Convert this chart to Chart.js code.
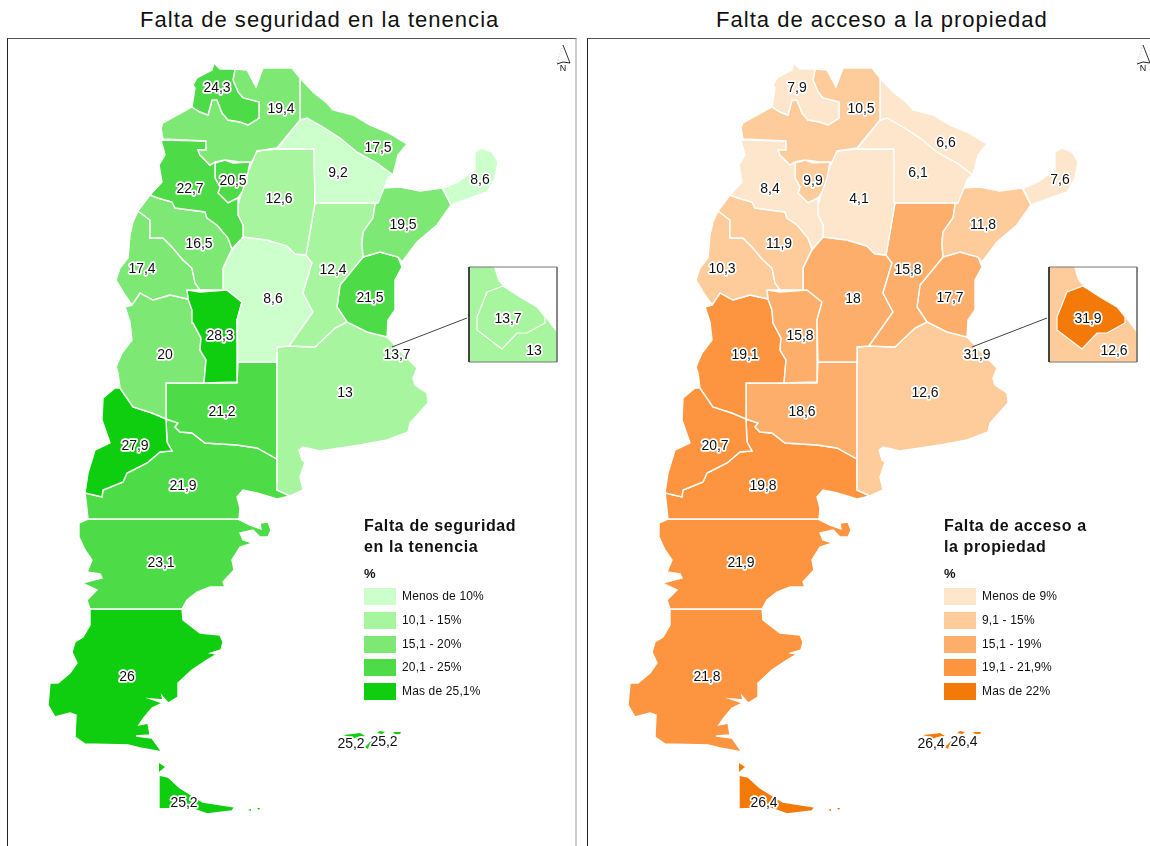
<!DOCTYPE html>
<html>
<head>
<meta charset="utf-8">
<title>Falta de seguridad y de acceso</title>
<script src="https://cdn.jsdelivr.net/npm/chart.js@4"></script>
<style>
  html, body { margin: 0; background: #fff; }
  body { width: 1150px; height: 846px; position: relative; overflow: hidden; font-family: "Liberation Sans", Arial, sans-serif; color: #111; }
  canvas { position: absolute; top: 38px; }
  #mapA { left: 7px; }
  #mapB { left: 587px; }
  .heading { position: absolute; top: 6px; font-size: 22px; line-height: 28px; letter-spacing: 1.03px; white-space: nowrap; }
  .frame { position: absolute; top: 38px; height: 808px; box-sizing: border-box; border-top: 1px solid #555; border-left: 1px solid #222; pointer-events: none; }
  #frameA { left: 7px; width: 570px; border-right: 2px solid #ccc; }
  #frameB { left: 587px; width: 563px; }
  .key { position: absolute; top: 516px; }
  .key h4 { margin: 0; font-size: 16px; line-height: 20.5px; letter-spacing: .6px; white-space: pre; }
  .key b { position: absolute; top: 50px; font-size: 13px; }
  .key div { position: absolute; left: 0; width: 32px; height: 17px; }
  .key span { position: absolute; left: 38px; font-size: 12px; line-height: 17px; letter-spacing: .15px; white-space: nowrap; }
</style>
</head>
<body>
<div class="heading" style="left:140px">Falta de seguridad en la tenencia</div>
<div class="heading" style="left:716px">Falta de acceso a la propiedad</div>
<canvas id="mapA" width="569" height="808"></canvas>
<canvas id="mapB" width="563" height="808"></canvas>
<div class="frame" id="frameA"></div>
<div class="frame" id="frameB"></div>
<div class="key" id="keyA" style="left:364px"></div>
<div class="key" id="keyB" style="left:944px"></div>
<script>
// province values, same order as the outlines below
const provinces = ["Jujuy", "Salta", "Formosa", "Chaco", "Misiones", "Catamarca", "Tucuman", "Santiago", "La Rioja", "Corrientes", "San Juan", "Santa Fe", "Entre Rios", "Cordoba", "San Luis", "Mendoza", "Buenos Aires", "La Pampa", "Neuquen", "Rio Negro", "Chubut", "Santa Cruz", "Tierra del Fuego"];
const tenencia = [24.3, 19.4, 17.5, 9.2, 8.6, 22.7, 20.5, 12.6, 16.5, 19.5, 17.4, 12.4, 21.5, 8.6, 28.3, 20, 13, 21.2, 27.9, 21.9, 23.1, 26, 25.2];
const propiedad = [7.9, 10.5, 6.6, 6.1, 7.6, 8.4, 9.9, 4.1, 11.9, 11.8, 10.3, 15.8, 17.7, 18, 15.8, 19.1, 12.6, 18.6, 20.7, 19.8, 21.9, 21.8, 26.4];
const granBsAs = [13.7, 31.9];

const breaksA = [10, 15, 20, 25];
const breaksB = [9, 15, 19, 21.95];
const greens = ["#ccffcc", "#a8f5a0", "#7de874", "#4ddb48", "#0fce0f"];
const oranges = ["#fde6cc", "#fecb9b", "#feae6b", "#fd9440", "#f37a08"];
const keyA = ["Menos de 10%", "10,1 - 15%", "15,1 - 20%", "20,1 - 25%", "Mas de 25,1%"];
const keyB = ["Menos de 9%", "9,1 - 15%", "15,1 - 19%", "19,1 - 21,9%", "Mas de 22%"];

// outlines, in map units
const jujuy = [[214,63],[220,69],[235,69],[233,80],[238,92],[243,98],[259,102],[259,118],[248,125],[240,122],[228,120],[222,113],[217,100],[212,100],[208,115],[200,112],[192,107],[195,88],[193,85],[197,78],[212,70]];
const salta = [[235,69],[247,70],[256,87],[263,68],[292,68],[300,78],[300,120],[277,148],[257,151],[252,162],[240,162],[225,160],[215,162],[210,165],[200,155],[198,150],[206,150],[206,141],[163,139],[161,128],[163,123],[192,107],[200,112],[208,115],[212,100],[217,100],[222,113],[228,120],[240,122],[248,125],[259,118],[259,102],[243,98],[238,92],[233,80]];
const formosa = [[300,78],[313,92],[327,103],[333,110],[353,115],[370,125],[387,132],[407,144],[398,155],[393,175],[377,163],[357,152],[340,138],[323,127],[307,118],[300,120]];
const chaco = [[300,120],[307,118],[323,127],[340,138],[357,152],[377,163],[393,175],[388,178],[378,203],[315,203],[314,149],[277,149]];
const misiones = [[443,188],[458,182],[475,170],[475,152],[482,148],[492,152],[498,162],[495,178],[487,192],[470,198],[451,205]];
const catamarca = [[161,140],[206,141],[206,150],[198,150],[200,155],[210,165],[215,162],[215,178],[220,187],[218,193],[228,203],[238,198],[238,215],[243,225],[243,237],[232,249],[228,238],[217,225],[207,218],[205,212],[175,208],[172,202],[158,198],[150,195],[162,182],[159,165],[165,155]];
const tucuman = [[215,163],[225,160],[233,163],[250,162],[247,178],[242,192],[238,198],[228,203],[218,193],[220,187],[215,178],[215,170]];
const santiago = [[257,151],[277,149],[314,149],[315,203],[306,255],[295,254],[287,246],[267,240],[243,237],[243,225],[238,215],[238,205],[243,188],[248,172],[252,162]];
const laRioja = [[138,211],[150,195],[158,198],[172,202],[175,208],[205,212],[207,218],[217,225],[228,238],[232,249],[223,268],[223,290],[200,290],[195,283],[192,268],[183,260],[172,247],[163,238],[150,238],[150,220]];
const corrientes = [[382,188],[400,187],[420,191],[442,188],[451,205],[437,225],[417,242],[402,262],[398,257],[380,252],[363,257],[362,243],[363,232],[373,218],[375,205]];
const sanJuan = [[138,211],[150,220],[150,238],[163,238],[172,247],[183,260],[192,268],[195,283],[200,290],[187,290],[188,299],[170,295],[153,300],[140,293],[132,305],[125,295],[116,280],[120,268],[128,258],[130,235],[133,222]];
const santaFe = [[315,203],[378,203],[375,205],[373,218],[363,232],[362,243],[363,257],[340,285],[337,307],[347,322],[335,328],[315,347],[289,346],[313,312],[303,293],[312,263],[306,255]];
const entreRios = [[363,257],[380,252],[398,257],[402,267],[395,280],[395,310],[388,320],[387,337],[367,332],[347,322],[337,307],[340,285]];
const cordoba = [[232,250],[243,237],[267,240],[287,246],[295,254],[306,255],[312,263],[303,293],[313,312],[289,346],[277,347],[277,362],[238,362],[237,320],[242,302],[237,298],[227,290],[223,290],[223,268]];
const sanLuis = [[187,290],[200,292],[227,290],[237,298],[242,302],[237,320],[237,382],[204,383],[206,360],[200,350],[201,338],[193,323],[192,310],[188,299]];
const mendoza = [[132,305],[140,293],[153,300],[170,295],[188,299],[192,310],[193,323],[201,338],[200,350],[206,360],[204,383],[166,383],[166,419],[152,413],[133,407],[120,388],[118,373],[116,367],[122,353],[132,340],[130,322],[125,307]];
const buenosAires = [[277,347],[289,346],[315,347],[335,328],[347,322],[369,332],[387,337],[390,340],[402,353],[417,368],[413,378],[415,385],[427,393],[428,403],[410,423],[408,432],[387,440],[360,445],[320,451],[303,447],[299,450],[302,460],[305,462],[300,477],[303,490],[290,496],[277,490]];
const laPampa = [[166,383],[204,383],[237,383],[238,362],[277,362],[277,459],[257,448],[237,445],[205,443],[192,433],[180,432],[175,427],[178,423],[166,419]];
const neuquen = [[115,388],[120,388],[133,407],[152,413],[166,419],[167,442],[172,451],[160,452],[147,463],[127,473],[123,482],[103,490],[102,497],[85,493],[88,473],[95,450],[110,443],[102,420],[103,398]];
const rioNegro = [[85,493],[102,497],[103,490],[123,482],[127,473],[147,463],[160,452],[172,451],[167,442],[166,419],[178,423],[175,427],[180,432],[192,433],[205,443],[237,445],[257,448],[277,459],[277,490],[290,496],[277,499],[257,493],[243,490],[237,497],[240,508],[239,519],[88,519],[86,500]];
const chubut = [[79,523],[88,519],[238,519],[250,525],[261,529],[260,523],[268,522],[271,530],[268,537],[260,537],[253,530],[240,533],[243,540],[253,543],[240,547],[232,560],[234,570],[223,582],[225,587],[210,587],[197,592],[187,600],[182,609],[90,609],[87,600],[97,590],[82,583],[102,578],[100,574],[87,572],[92,560],[85,550],[79,537]];
const santaCruz = [[90,609],[182,609],[183,620],[200,633],[220,635],[223,642],[221,650],[211,653],[217,654],[207,660],[192,670],[178,683],[178,697],[168,703],[162,696],[163,700],[151,699],[163,703],[152,708],[143,719],[139,725],[148,723],[150,735],[136,736],[152,738],[162,752],[140,748],[128,745],[85,744],[75,737],[76,715],[70,713],[55,717],[48,705],[50,683],[58,683],[70,673],[77,663],[72,652],[75,642],[83,637],[90,625]];
const tierraFuego = [[159,775],[168,777],[180,788],[203,802],[235,807],[232,811],[207,814],[190,808],[159,809]];
const outlines = [jujuy, salta, formosa, chaco, misiones, catamarca, tucuman, santiago, laRioja, corrientes, sanJuan, santaFe, entreRios, cordoba, sanLuis, mendoza, buenosAires, laPampa, neuquen, rioNegro, chubut, santaCruz, tierraFuego];

// small bits of Tierra del Fuego province, no white edge on these
const fuegoBits = [
  [[159,763],[165,767],[159,772]],
  [[248,810],[251,809],[251,811]],
  [[257,808],[260,808],[259,810]],
  [[343,735],[353,734],[360,733],[365,736],[357,737],[353,739],[350,737]],
  [[365,747],[370,742],[373,741],[369,746],[368,749]],
  [[377,733],[380,731],[385,732],[382,734]],
  [[393,732],[401,732],[400,734],[395,734]]
];

// inset
const insetLand = [[469,267],[494,267],[498,280],[503,286],[520,297],[537,307],[545,317],[557,333],[557,362],[469,362]];
const insetCity = [[503,286],[487,292],[477,317],[477,330],[502,349],[517,333],[527,333],[545,323],[545,317],[537,307],[520,297]];
const insetBox = [[469,267],[557,267],[557,362],[469,362]];
const insetLeft = [[469,267],[469,362]];
const leader = [[392,347],[467,318]];
const arrowLeft = [[563,45],[557,63]];
const arrowRight = [[563,45],[570,63]];
const arrowBase = [[557,64],[563,62],[570,63]];

// label spots
const spots = [[217,88],[281,109],[378,148],[338,173],[480,180],[190,189],[233,181],[279,199],[199,244],[403,225],[142,269],[333,270],[370,298],[273,299],[220,336],[165,355],[345,393],[222,412],[135,446],[183,486],[161,563],[127,677],[184,803]];
const spotsB = { 2: [366,143], 11: [328,270] };
const fuegoSpots = [[351,744],[384,742]];
const citySpot = [397,355];
const insetCitySpot = [508,319];
const insetLandSpot = [534,351];
const northSpot = [563,69];

const classOf = (v, breaks) => {
  let k = 0;
  while (k < breaks.length && v > breaks[k]) k++;
  return k;
};
const asPoints = pts => pts.map(p => ({ x: p[0], y: p[1] }));
const polygon = (pts, fillColor, edge, width) => ({
  data: asPoints(pts.concat([pts[0]])),
  showLine: true,
  fill: fillColor ? "shape" : false,
  backgroundColor: fillColor || "transparent",
  borderColor: edge,
  borderWidth: width,
  pointRadius: 0,
  tension: 0
});
const line = (pts, color, width, dash) => ({
  data: asPoints(pts),
  showLine: true,
  fill: false,
  borderColor: color,
  borderWidth: width,
  borderDash: dash || [],
  pointRadius: 0,
  tension: 0
});

const fmt = v => String(v).replace(".", ",");

const mapLabels = {
  id: "mapLabels",
  afterDatasetsDraw(chart, args, opts) {
    const { ctx, scales } = chart;
    const put = (spot, text, font) => {
      ctx.font = font;
      const x = scales.x.getPixelForValue(spot[0]);
      const y = scales.y.getPixelForValue(spot[1]);
      ctx.strokeText(text, x, y);
      ctx.fillText(text, x, y);
    };
    ctx.save();
    ctx.textAlign = "center";
    ctx.textBaseline = "middle";
    ctx.lineJoin = "round";
    ctx.strokeStyle = "#fff";
    ctx.lineWidth = 3.5;
    ctx.fillStyle = "#111";
    const big = '14px "Liberation Sans", Arial, sans-serif';
    opts.values.forEach((v, i) => put(opts.spotsFor[i] || spots[i], fmt(v), big));
    const last = opts.values[opts.values.length - 1];
    fuegoSpots.forEach(s => put(s, fmt(last), big));
    put(citySpot, fmt(opts.city), big);
    put(insetCitySpot, fmt(opts.city), big);
    put(insetLandSpot, fmt(opts.values[provinces.indexOf("Buenos Aires")]), big);
    ctx.strokeStyle = "transparent";
    put(northSpot, "N", '9px "Liberation Sans", Arial, sans-serif');
    ctx.restore();
  }
};

function drawMap(id, values, city, breaks, colors, xMax, spotsFor) {
  const tone = v => colors[classOf(v, breaks)];
  const baValue = values[provinces.indexOf("Buenos Aires")];
  const datasets = [
    line(insetLeft, "#333", 1),
    polygon(insetBox, null, "#777", 1),
    line(leader, "#444", 1),
    polygon(insetCity, tone(city), "#fff", 1.2),
    polygon(insetLand, tone(baValue), "transparent", 0),
    line(arrowBase, "#222", 1),
    line(arrowRight, "#333", 1),
    line(arrowLeft, "#bbb", 1, [1, 2])
  ];
  fuegoBits.forEach(b => datasets.push(polygon(b, tone(values[values.length - 1]), "transparent", 0)));
  outlines.forEach((o, i) => datasets.push(polygon(o, tone(values[i]), "#fff", 1.4)));
  new Chart(document.getElementById(id), {
    type: "scatter",
    data: { datasets },
    options: {
      responsive: false,
      animation: false,
      events: [],
      layout: { padding: 0 },
      scales: {
        x: { type: "linear", display: false, min: 7, max: xMax },
        y: { type: "linear", display: false, min: 38, max: 846, reverse: true }
      },
      plugins: {
        legend: { display: false },
        tooltip: { enabled: false },
        mapLabels: { values, city, spotsFor }
      }
    },
    plugins: [mapLabels]
  });
}

function drawKey(id, title, labels, colors) {
  const box = document.getElementById(id);
  let html = "<h4>" + title + "</h4><b>%</b>";
  labels.forEach((t, i) => {
    const top = [72, 96, 120, 143, 167][i];
    html += '<div style="top:' + top + 'px;background:' + colors[i] + '"></div>';
    html += '<span style="top:' + top + 'px">' + t + "</span>";
  });
  box.innerHTML = html;
}

drawMap("mapA", tenencia, granBsAs[0], breaksA, greens, 576, {});
drawMap("mapB", propiedad, granBsAs[1], breaksB, oranges, 570, spotsB);
drawKey("keyA", "Falta de seguridad\nen la tenencia", keyA, greens);
drawKey("keyB", "Falta de acceso a\nla propiedad", keyB, oranges);
</script>
</body>
</html>
